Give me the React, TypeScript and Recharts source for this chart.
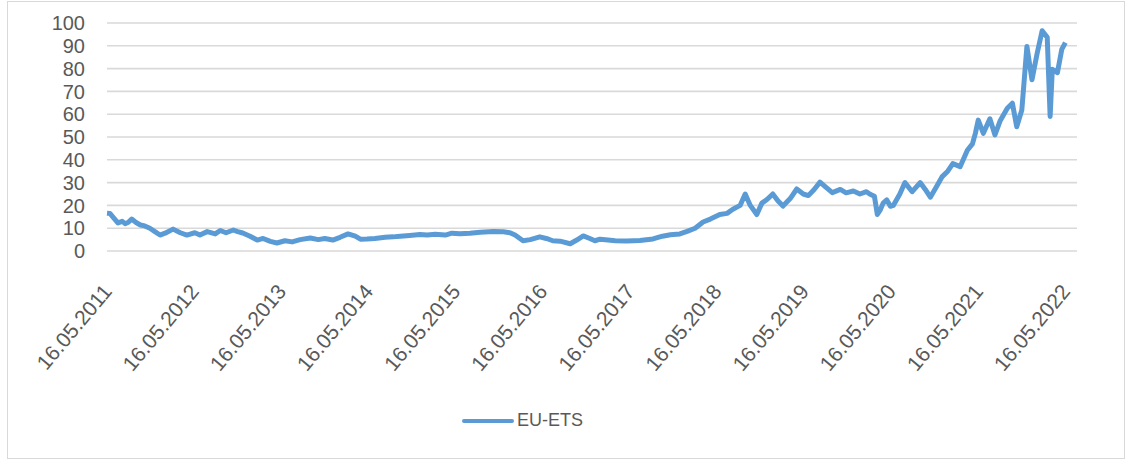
import React from 'react'
import { LineChart, Line, XAxis, YAxis, CartesianGrid } from 'recharts'

// months counted from 16.05.2011
const months = [
  0, 0.4, 0.8, 1.5, 2.1, 2.5, 2.9, 3.4, 4.0, 4.6, 5.2, 5.9, 6.6, 7.3, 8.0, 9.1, 10.1, 11.0, 12.1, 12.8,
  13.8, 14.9, 15.6, 16.4, 17.4, 18.0, 18.7, 19.7, 20.7, 21.5, 22.5, 23.4, 24.5, 25.5, 26.6, 28.0, 29.1, 30.0, 31.1, 32.1,
  33.2, 34.2, 34.9, 35.8, 36.9, 38.3, 39.4, 40.4, 41.7, 43.1, 44.1, 45.2, 46.6, 47.5, 48.6, 50.0, 51.4, 53.2, 54.6, 55.5,
  56.2, 57.3, 58.3, 59.6, 60.5, 61.4, 62.4, 63.8, 64.7, 65.6, 66.5, 67.2, 67.9, 69.0, 70.0, 71.6, 73.4, 75.2, 76.5, 77.6,
  78.9, 79.9, 81.0, 82.1, 83.1, 84.4, 85.4, 86.2, 87.2, 87.9, 88.6, 89.5, 90.2, 90.9, 91.7, 92.4, 93.1, 94.1, 95.0, 95.9,
  96.6, 97.4, 98.2, 99.0, 99.9, 101.0, 101.8, 102.8, 103.7, 104.6, 105.1, 105.7, 106.1, 106.5, 106.9, 107.4, 107.9, 108.3, 109.2, 109.9,
  110.9, 112.0, 112.7, 113.4, 114.2, 115.0, 115.8, 116.5, 117.5, 118.5, 119.2, 119.6, 120.0, 120.7, 121.6, 122.3, 123.0, 124.0, 124.7, 125.3,
  126.0, 126.7, 127.4, 128.1, 128.8, 129.5, 129.9, 130.2, 130.9, 131.5, 132.0,
]

const euEts = [
  16.6, 16.5, 15, 12.3, 13, 12, 12.5, 14, 12.5, 11.4, 11, 10, 8.5, 7, 7.8, 9.6, 8, 7, 8, 7,
  8.5, 7.5, 9, 8, 9.2, 8.5, 7.9, 6.5, 4.8, 5.5, 4.2, 3.5, 4.5, 4, 5, 5.7, 5, 5.5, 4.8, 6,
  7.5, 6.5, 5.2, 5.3, 5.5, 6, 6.2, 6.5, 6.8, 7.2, 7, 7.3, 7, 7.8, 7.6, 7.8, 8.2, 8.5, 8.4, 8,
  7, 4.5, 5, 6.2, 5.5, 4.5, 4.3, 3.2, 4.8, 6.6, 5.5, 4.5, 5.2, 4.8, 4.5, 4.4, 4.6, 5.3, 6.5, 7.1,
  7.5, 8.6, 10, 12.7, 14, 16, 16.5, 18.3, 20, 25, 20, 16, 21, 22.6, 25, 22, 19.7, 23, 27.2, 25,
  24.3, 27, 30.2, 28, 25.6, 27, 25.5, 26.3, 25, 26, 24.9, 24, 16, 18, 21, 22.4, 19.6, 20, 25, 30,
  26, 30, 27, 23.6, 28, 32.5, 35, 38.3, 37, 44.2, 47, 51.6, 57.4, 51.6, 58, 50.9, 57, 62.6, 64.8, 54.5,
  61.8, 89.7, 75.1, 86.5, 96.6, 93.7, 59, 79.7, 78.2, 88.4, 91.4,
]

const tickMonths = [0, 12, 24, 36, 48, 60, 72, 84, 96, 108, 120, 132]
const tickLabels = [
  '16.05.2011', '16.05.2012', '16.05.2013', '16.05.2014', '16.05.2015', '16.05.2016',
  '16.05.2017', '16.05.2018', '16.05.2019', '16.05.2020', '16.05.2021', '16.05.2022',
]
const yTicks = [0, 10, 20, 30, 40, 50, 60, 70, 80, 90, 100]

const data = months.map((m, i) => ({ m, value: euEts[i] }))

const FONT = '"Liberation Sans", Arial, sans-serif'
const TEXT = '#595959'
const BLUE = '#5B9BD5'

function DateTick({ x, y, payload }: any) {
  const idx = tickMonths.indexOf(payload.value)
  const ax = x + 6
  const ay = y + 41
  return (
    <text
      x={ax}
      y={ay}
      textAnchor="end"
      fill={TEXT}
      fontSize={21}
      fontFamily={FONT}
      transform={`rotate(-50, ${ax}, ${ay})`}
    >
      {tickLabels[idx]}
    </text>
  )
}

export default function App() {
  return (
    <div style={{ position: 'absolute', left: 0, top: 0, width: 1126, height: 462, background: '#fff' }}>
      <div
        style={{
          position: 'absolute', left: 7, top: 1, width: 1116, height: 456,
          border: '1px solid #D9D9D9',
        }}
      />
      <LineChart
        width={1126}
        height={462}
        data={data}
        margin={{ top: 23, right: 49, bottom: 81, left: 0 }}
        style={{ position: 'absolute', left: 0, top: 0 }}
      >
        <CartesianGrid vertical={false} stroke="#D9D9D9" strokeWidth={1.6} />
        <XAxis
          dataKey="m"
          type="number"
          domain={[0, 133.6]}
          ticks={tickMonths}
          interval={0}
          axisLine={false}
          tickLine={false}
          tickSize={0}
          tickMargin={0}
          height={130}
          tick={<DateTick />}
        />
        <YAxis
          domain={[0, 100]}
          ticks={yTicks}
          interval={0}
          width={107}
          axisLine={false}
          tickLine={false}
          tickSize={0}
          tickMargin={22}
          tick={{ fill: TEXT, fontSize: 20, fontFamily: FONT }}
        />
        <Line
          type="linear"
          dataKey="value"
          stroke={BLUE}
          strokeWidth={5}
          strokeLinejoin="round"
          dot={false}
          isAnimationActive={false}
        />
      </LineChart>
      <div style={{ position: 'absolute', left: 462, top: 410, display: 'flex', alignItems: 'center', fontFamily: FONT }}>
        <svg width={52} height={8}>
          <line x1={2} y1={4} x2={50} y2={4} stroke={BLUE} strokeWidth={4} strokeLinecap="round" />
        </svg>
        <span style={{ marginLeft: 3, fontSize: 18, color: TEXT }}>EU-ETS</span>
      </div>
    </div>
  )
}
